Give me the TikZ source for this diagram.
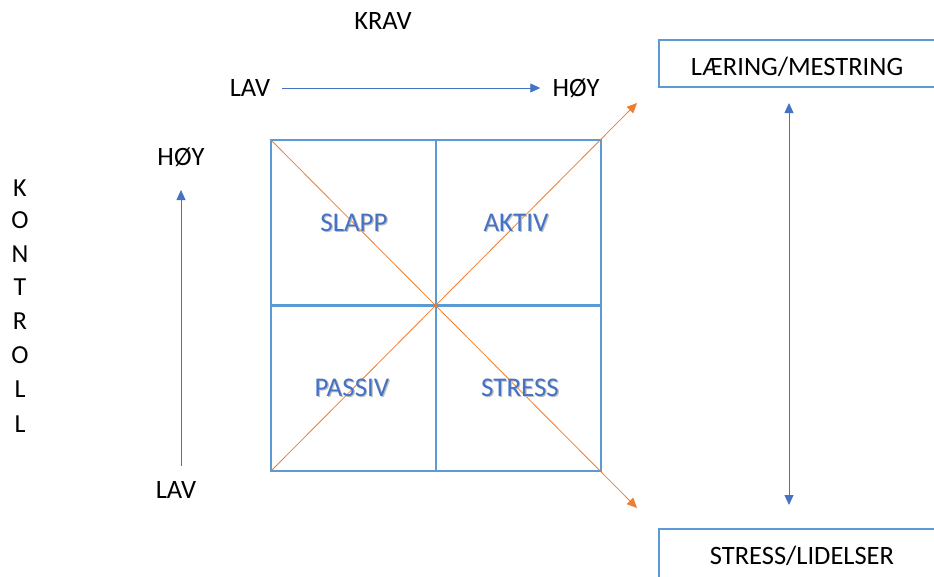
\documentclass[tikz,border=0pt]{standalone}
\usepackage{fontspec}
\setmainfont{Carlito}
\usetikzlibrary{arrows.meta,calc}
\definecolor{gridblue}{HTML}{5B9BD5}
\definecolor{textblue}{HTML}{4472C4}
\definecolor{orangeline}{HTML}{ED7D31}
\tikzset{
  lbl/.style={font=\fontsize{26.5}{28}\selectfont, text=black, inner sep=0pt},
  quad/.style={font=\fontsize{27}{29}\selectfont, text=textblue, inner sep=0pt},
  quadshadow/.style={font=\fontsize{27}{29}\selectfont, text=black!25, inner sep=0pt},
  axis/.style={draw=textblue, line width=0.8pt, -{Triangle[length=10pt,width=9pt]}},
  diag/.style={draw=orangeline, line width=0.8pt, -{Triangle[length=10pt,width=9pt]}},
  outbox/.style={draw=gridblue, line width=2.2pt},
  letter/.style={font=\fontsize{26}{28}\selectfont, inner sep=0pt}
}
\begin{document}
\begin{tikzpicture}[x=1pt,y=-1pt]
\useasboundingbox (0,0) rectangle (934,576);
\clip (0,0) rectangle (934,576);
% top axis
\node[lbl] (krav) at (383,21) {KRAV};
\node[lbl] (lavx) at (250,88) {LAV};
\node[lbl] (hoyx) at (576,88) {HØY};
\draw[axis] ($(lavx.east)+(12,0)$) -- ($(hoyx.west)+(-12,0)$);
% left axis
\node[lbl] (hoyy) at (181,157) {HØY};
\node[lbl] (lavy) at (176,490) {LAV};
\coordinate (ay1) at (181,466);
\coordinate (ay2) at (181,190);
\draw[axis] (ay1) -- (ay2);
% KONTROLL
\foreach \l/\y [count=\i] in {K/188,O/220,N/254,T/287,R/321,O/355,L/389,L/424}
  \node[letter] (k\i) at (20,\y) {\l};
% grid
\coordinate (tl) at (271,140);
\coordinate (br) at (601,471);
\coordinate (tr) at (601,140);
\coordinate (bl) at (271,471);
\draw[draw=gridblue, line width=2.2pt] (tl) rectangle (br);
\draw[draw=gridblue, line width=2.2pt] (436,140) -- (436,471) (271,305.5) -- (601,305.5);
% diagonals
\coordinate (d1) at (637,103);
\coordinate (d2) at (637,508);
\draw[diag] (bl) -- (d1);
\draw[diag] (tl) -- (d2);
% quadrant labels
\foreach \n/\t/\x/\y in {slapp/SLAPP/354/223, aktiv/AKTIV/516/223, passiv/PASSIV/352/388, stress/STRESS/520/388}{
  \node[quadshadow] (\n s) at (\x+1.2,\y+1.2) {\t};
  \node[quad] (\n) at (\x,\y) {\t};
}
% right boxes
\draw[outbox] (659,40) rectangle (950,87);
\node[lbl] (laering) at (797,67) {LÆRING/MESTRING};
\draw[outbox] (659,529) rectangle (950,600);
\node[lbl] (stresslid) at (802,556) {STRESS/LIDELSER};
\coordinate (v1) at (789,103);
\coordinate (v2) at (789,505);
\draw[draw=textblue, line width=0.8pt, {Triangle[length=10pt,width=9pt]}-{Triangle[length=10pt,width=9pt]}] (v1) -- (v2);
\end{tikzpicture}
\end{document}
